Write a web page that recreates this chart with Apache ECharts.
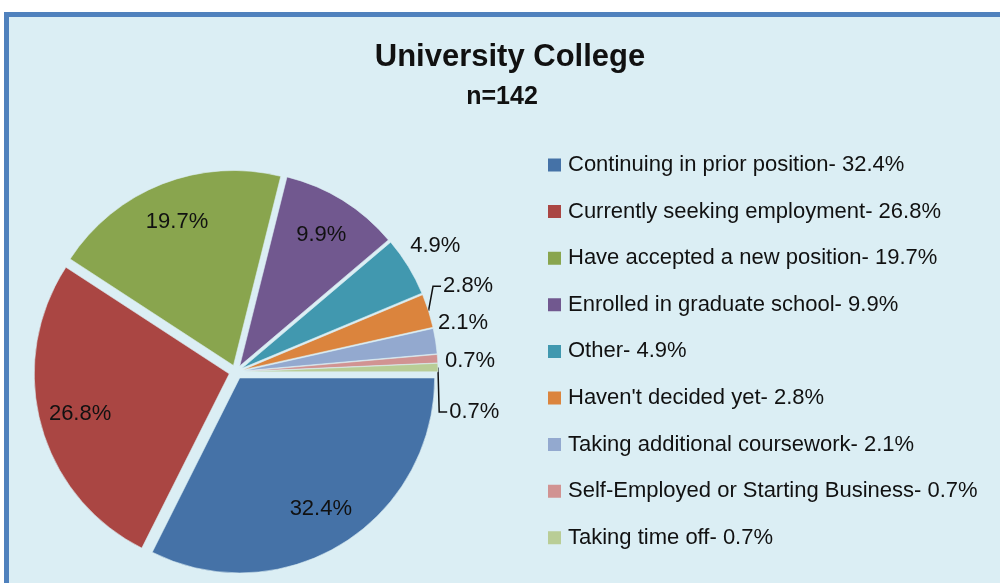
<!DOCTYPE html>
<html>
<head>
<meta charset="utf-8">
<style>
  html, body { margin: 0; padding: 0; background: #fff; }
  #panel {
    position: absolute; left: 4px; top: 12px; width: 1000px; height: 600px;
    background: #DBEEF4;
    border-left: 5px solid #4F81BD; border-top: 5px solid #4F81BD;
  }
  #chart { position: absolute; left: 0; top: 0; width: 1000px; height: 583px; }
</style>
<script src="https://cdn.jsdelivr.net/npm/echarts@6/dist/echarts.min.js"></script>
</head>
<body>
<div id="panel"></div>
<div id="chart"></div>
<script>
const names = [
  'Continuing in prior position',
  'Currently seeking employment',
  'Have accepted a new position',
  'Enrolled in graduate school',
  'Other',
  "Haven't decided yet",
  'Taking additional coursework',
  'Self-Employed or Starting Business',
  'Taking time off'
]
const percents = [32.4, 26.8, 19.7, 9.9, 4.9, 2.8, 2.1, 0.7, 0.7]
const colors = ['#4572A7', '#AA4643', '#89A54E', '#71588F', '#4198AF', '#DB843D', '#93A9CF', '#D19392', '#B9CD96']
// which slices get leader lines (Excel moved those labels)
const withLeader = [false, false, false, false, false, true, false, false, true]

const font = '"Liberation Sans", Arial, sans-serif'
const center = [236, 372]
const R = 195

// small nudges [dx, dy] for the outside labels, to sit them where Excel put them
const labelNudge = { 4: [-5, -21], 5: [-2, -22], 6: [0, -18], 7: [5, -5], 8: [-4, 22] }

const chart = echarts.init(document.getElementById('chart'))

const mainData = names.map((n, i) => ({
  name: n,
  value: percents[i],
  selected: true,
  itemStyle: { color: colors[i] },
  label: { show: percents[i] < 9 },
  labelLine: withLeader[i]
    ? { show: true, length: 8, length2: 8 }
    : { show: false, length: 0, length2: 2 }
}))

// transparent ring, only used to put the big labels further out
const labelData = names.map((n, i) => ({
  name: n,
  value: percents[i],
  selected: true,
  label: { show: percents[i] >= 9 }
}))

function layoutSmallLabel(p) {
  const nudge = labelNudge[p.dataIndex]
  if (!nudge) return {}
  const [dx, dy] = nudge
  const out = { dx, dy }
  if (withLeader[p.dataIndex] && p.labelLinePoints) {
    const start = p.labelLinePoints[0]
    const left = p.labelRect.x + dx - 2
    const midY = p.labelRect.y + dy + p.labelRect.height / 2
    out.labelLinePoints = [start, [left - 8, midY], [left, midY]]
  }
  return out
}

chart.setOption({
  backgroundColor: 'transparent',
  title: [
    {
      text: 'University College',
      left: 505, top: 37, textAlign: 'center',
      textStyle: { fontFamily: font, fontSize: 31, fontWeight: 'bold', color: '#111' }
    },
    {
      text: 'n=142',
      left: 497, top: 80, textAlign: 'center',
      textStyle: { fontFamily: font, fontSize: 25, fontWeight: 'bold', color: '#111' }
    }
  ],
  legend: {
    orient: 'vertical',
    left: 541, top: 146,
    itemWidth: 15, itemHeight: 15,
    itemGap: 18.6,
    icon: 'rect',
    data: names,
    selectedMode: false,
    formatter: (name) => name + '- ' + percents[names.indexOf(name)].toFixed(1) + '%',
    textStyle: { fontFamily: font, fontSize: 22, lineHeight: 28, color: '#111', padding: [0, 0, 0, 1] }
  },
  series: [
    {
      type: 'pie',
      center, radius: R,
      startAngle: 0, clockwise: true,
      selectedMode: 'multiple',
      selectedOffset: 7,
      emphasis: { scale: false },
      itemStyle: { borderColor: '#DBEEF4', borderWidth: 0.6 },
      label: {
        position: 'outside',
        fontFamily: font, fontSize: 22, color: '#111',
        formatter: (p) => p.value.toFixed(1) + '%'
      },
      labelLine: { lineStyle: { color: '#111', width: 1.5 } },
      labelLayout: layoutSmallLabel,
      data: mainData
    },
    {
      type: 'pie',
      center, radius: [108, R],
      startAngle: 0, clockwise: true,
      selectedMode: 'multiple',
      selectedOffset: 7,
      silent: true,
      emphasis: { scale: false },
      itemStyle: { color: 'rgba(0,0,0,0)' },
      label: {
        position: 'inside',
        fontFamily: font, fontSize: 22, color: '#111',
        formatter: (p) => p.value.toFixed(1) + '%'
      },
      labelLine: { show: false },
      data: labelData
    }
  ]
})
</script>
</body>
</html>
